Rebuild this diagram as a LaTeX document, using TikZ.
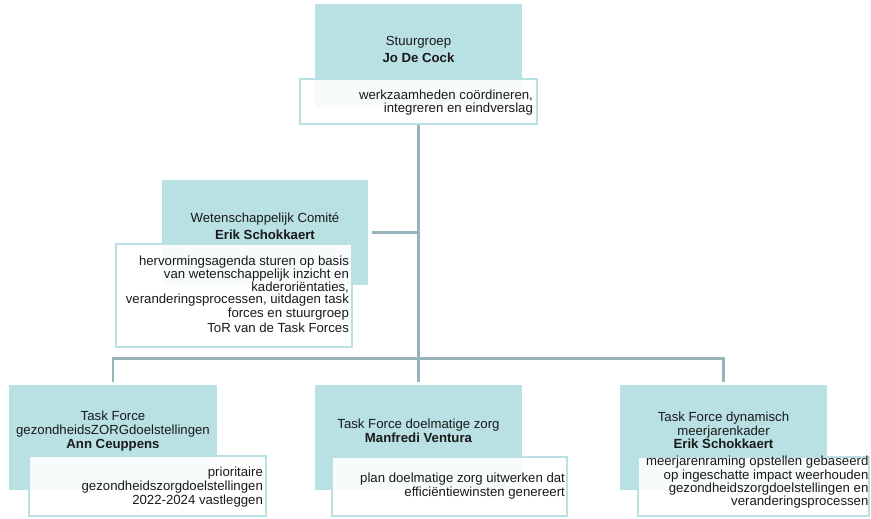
\documentclass[tikz,border=0pt]{standalone}
\usepackage{fontspec}
\setmainfont{Liberation Sans}
\usetikzlibrary{calc}
\definecolor{vlakblauw}{HTML}{B9E0E3}
\definecolor{lijngrijs}{HTML}{96B4B9}
\definecolor{tekstzwart}{HTML}{1A1A1A}

\begin{document}
\begin{tikzpicture}[x=1pt,y=-1pt,
  vlak/.style={fill=vlakblauw,draw=none,inner sep=0pt},
  kader/.style={draw=vlakblauw,line width=2.2pt,fill=white,fill opacity=0.9,inner sep=0pt},
  titel/.style={align=center,text=tekstzwart,inner sep=0pt},
  taak/.style={align=right,text=tekstzwart,inner sep=0pt,anchor=east},
  lijn/.style={draw=lijngrijs,line width=2.8pt}]
  \useasboundingbox (0,0) rectangle (871,519);

  % blauwe vlakken
  \node[vlak,minimum width=207,minimum height=104] (sgT) at (418.5,56) {};
  \node[vlak,minimum width=206,minimum height=105] (wcT) at (265,232.5) {};
  \node[vlak,minimum width=208,minimum height=105] (tf1T) at (113,437.5) {};
  \node[vlak,minimum width=207,minimum height=105] (tf2T) at (418.5,437.5) {};
  \node[vlak,minimum width=207,minimum height=105] (tf3T) at (723.5,437.5) {};

  % witte kaders
  \node[kader,minimum width=237,minimum height=45] (sgW) at (418.5,101.5) {};
  \node[kader,minimum width=236,minimum height=103] (wcW) at (234,295.5) {};
  \node[kader,minimum width=237,minimum height=60] (tf1W) at (147.5,486) {};
  \node[kader,minimum width=235,minimum height=59] (tf2W) at (449.5,486.5) {};
  \node[kader,minimum width=231,minimum height=59] (tf3W) at (753.5,486.5) {};

  % lijnen
  \draw[lijn,shorten >=3pt] (sgW.south) -- (tf2T.north);
  \draw[lijn,shorten <=4pt] (wcT.east) -- (wcT.east -| sgW.south);
  \draw[lijn,shorten <=3pt,shorten >=3pt] (tf1T.north) -- ++(0,-26) -| (tf3T.north);

  % titels
  \node[titel,font=\fontsize{13.2}{17}\selectfont] (sgN) at ($(sgT.north)+(0,46)$)
    {Stuurgroep\\\textbf{Jo De Cock}};
  \node[titel,font=\fontsize{13.2}{17}\selectfont] (wcN) at ($(wcT.north)+(0,46)$)
    {Wetenschappelijk Comité\\\textbf{Erik Schokkaert}};
  \node[titel,font=\fontsize{13.2}{14}\selectfont] (tf1N) at ($(tf1T.north)+(0,46)$)
    {Task Force\\gezondheidsZORGdoelstellingen\\\textbf{Ann Ceuppens}};
  \node[titel,font=\fontsize{13.2}{14}\selectfont] (tf2N) at ($(tf2T.north)+(0,46)$)
    {Task Force doelmatige zorg\\\textbf{Manfredi Ventura}};
  \node[titel,font=\fontsize{13.2}{13.5}\selectfont] (tf3N) at ($(tf3T.north)+(0,45.5)$)
    {Task Force dynamisch\\meerjarenkader\\\textbf{Erik Schokkaert}};

  % taken
  \node[taak,font=\fontsize{13.2}{13}\selectfont] (sgK) at ($(sgW.east)+(-5,1)$)
    {werkzaamheden coördineren,\\integreren en eindverslag};
  \node[taak,font=\fontsize{13.2}{12}\selectfont] (wcK) at ($(wcW.east)+(-4,-1.5)$)
    {hervormingsagenda sturen op basis\\van wetenschappelijk inzicht en\\kaderoriëntaties,\\veranderingsprocessen, uitdagen task\\forces en stuurgroep\\[2pt]ToR van de Task Forces};
  \node[taak,font=\fontsize{13.2}{14}\selectfont] (tf1K) at ($(tf1W.east)+(-4,1)$)
    {prioritaire\\gezondheidszorgdoelstellingen\\2022-2024 vastleggen};
  \node[taak,font=\fontsize{13.2}{12}\selectfont] (tf2K) at ($(tf2W.east)+(-3,-0.5)$)
    {plan doelmatige zorg uitwerken dat\\efficiëntiewinsten genereert};
  \node[taak,font=\fontsize{13.2}{10.2}\selectfont] (tf3K) at ($(tf3W.east)+(-1.5,-4)$)
    {meerjarenraming opstellen gebaseerd\\op ingeschatte impact weerhouden\\gezondheidszorgdoelstellingen en\\veranderingsprocessen};
\end{tikzpicture}
\end{document}
